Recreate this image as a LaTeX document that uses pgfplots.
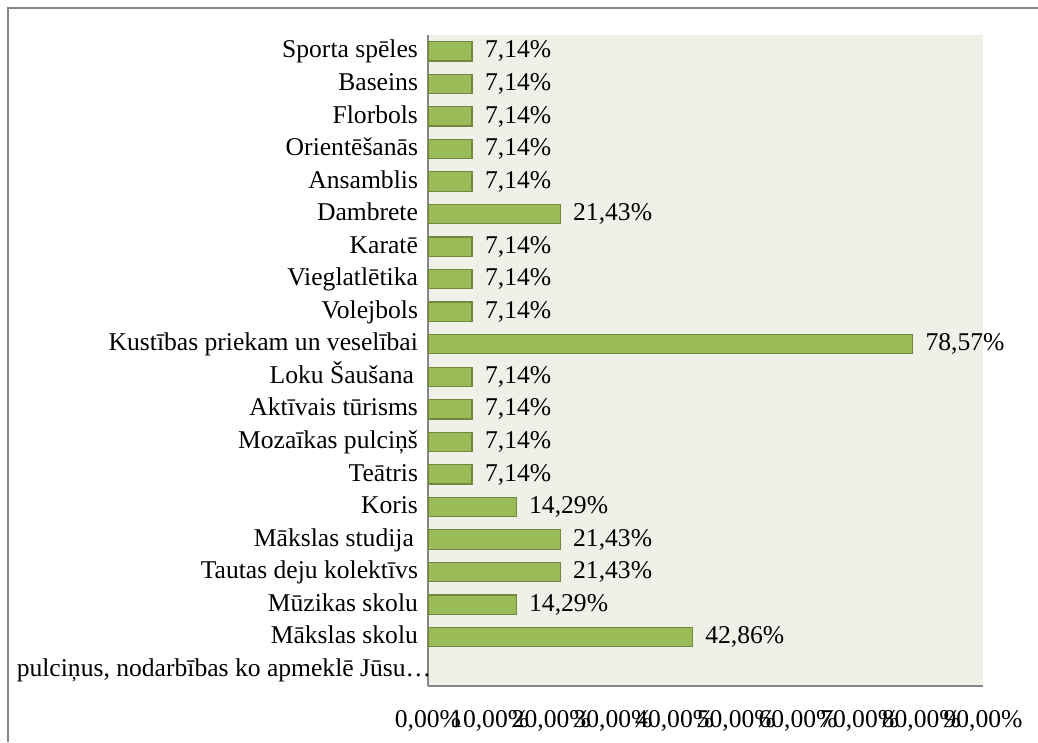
\documentclass[border=0pt]{standalone}
\usepackage{fontspec}
\setmainfont{Liberation Serif}
\usepackage{pgfplots}
\pgfplotsset{compat=1.18}
\definecolor{barfill}{HTML}{9BBB59}
\definecolor{barline}{HTML}{71893F}
\definecolor{plotbg}{HTML}{EFF1E8}
\definecolor{axgray}{HTML}{868686}
\newcommand{\lblfont}{\fontsize{19.2}{22}\selectfont}
\begin{document}
\begin{tikzpicture}
\useasboundingbox (0,0) rectangle (778.5pt,556.5pt);
\draw[axgray, line width=1pt] (6pt,0) -- (6pt,550.5pt) -- (778.5pt,550.5pt);
\begin{axis}[
  at={(321pt,42pt)}, anchor=south west,
  scale only axis, width=416.25pt, height=488.25pt,
  xbar, bar width=14.5pt,
  xmin=0, xmax=90, ymin=-0.5, ymax=19.5,
  axis background/.style={fill=plotbg},
  axis x line=bottom, axis y line=left,
  axis line style={axgray, line width=1pt, -},
  xtick={0,10,...,90}, ytick={0,...,19},
  major tick length=0pt,
  /pgf/number format/assume math mode=true,
  xticklabel={\pgfmathprintnumber[fixed,fixed zerofill,precision=2,use comma]{\tick}\%},
  xticklabel style={font=\lblfont, yshift=-18pt, inner sep=0pt},
  yticklabel style={font=\lblfont, xshift=-4pt, text height=14pt, text depth=4pt},
  yticklabels={{pulciņus, nodarbības ko apmeklē Jūsu…\hspace*{-10pt}},
    Mākslas skolu, Mūzikas skolu, Tautas deju kolektīvs, Mākslas studija\hspace*{3pt}, Koris,
    Teātris, Mozaīkas pulciņš, Aktīvais tūrisms, Loku Šaušana\hspace*{3pt},
    Kustības priekam un veselībai, Volejbols, Vieglatlētika, Karatē, Dambrete,
    Ansamblis, Orientēšanās, Florbols, Baseins, Sporta spēles},
  point meta=x,
  nodes near coords={\pgfmathprintnumber[fixed,fixed zerofill,precision=2,use comma]{\pgfplotspointmeta}\%},
  nodes near coords style={anchor=west, xshift=6pt, font=\lblfont, text=black, text height=14pt, text depth=4pt},
]
\addplot[fill=barfill, draw=barline, line width=0.9pt] coordinates {
  (42.86,1) (14.29,2) (21.43,3) (21.43,4) (14.29,5)
  (7.14,6) (7.14,7) (7.14,8) (7.14,9) (78.57,10)
  (7.14,11) (7.14,12) (7.14,13) (21.43,14) (7.14,15)
  (7.14,16) (7.14,17) (7.14,18) (7.14,19)
};
\end{axis}
\end{tikzpicture}
\end{document}
